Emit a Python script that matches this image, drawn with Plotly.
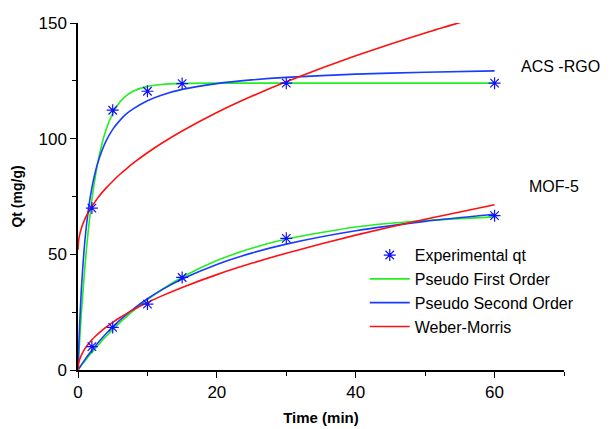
import plotly.graph_objects as go

# Sampling times (min) and measured uptake for both adsorbents
t_exp = [2, 5, 10, 15, 30, 60]
qt_acs_rgo = [70.0, 112.3, 120.5, 123.8, 124.0, 124.0]
qt_mof5 = [10.1, 18.4, 28.5, 40.0, 56.9, 66.7]

# Model curves sampled along the time axis
t_fit = [0, 0.1, 0.25, 0.5, 1, 1.5, 2, 2.5, 3, 4, 5, 6, 7, 8, 10, 12, 15, 20, 25, 30, 40, 50, 60]

pfo_acs = [0, 5.5, 13.2, 25.0, 44.9, 60.9, 73.6, 83.7, 91.9, 103.5, 110.9, 115.7, 118.7,
           120.6, 122.6, 123.4, 123.9, 124.0, 124.0, 124.0, 124.0, 124.0, 124.0]
pso_acs = [0, 9.1, 20.6, 35.6, 56.1, 69.4, 78.8, 85.7, 91.0, 98.7, 104.0, 107.8, 110.8,
           113.0, 116.4, 118.8, 121.3, 123.8, 125.4, 126.5, 127.9, 128.7, 129.3]
wm_acs = [52.0, 56.2, 58.6, 61.4, 65.3, 68.2, 70.7, 72.9, 75.0, 78.5, 81.6, 84.5, 87.1,
          89.5, 93.9, 97.9, 103.3, 111.3, 118.3, 124.6, 135.8, 145.7, 154.6]

pfo_mof = [0, 0.4, 1.0, 2.0, 3.9, 5.8, 7.6, 9.4, 11.1, 14.4, 17.4, 20.4, 23.1,
           25.7, 30.4, 34.6, 40.1, 47.3, 52.6, 56.6, 61.8, 64.6, 66.2]
pso_mof = [0, 0.47, 1.17, 2.30, 4.49, 6.56, 8.54, 10.42, 12.22, 15.57, 18.65, 21.47, 24.07,
           26.47, 30.79, 34.53, 39.32, 45.64, 50.52, 54.4, 60.16, 64.25, 67.3]
wm_mof = [0, 2.92, 4.61, 6.52, 9.22, 11.29, 13.04, 14.58, 15.97, 18.44, 20.62, 22.58, 24.39,
          26.08, 29.16, 31.94, 35.71, 41.23, 46.10, 50.50, 58.31, 65.19, 71.42]

x_ticks = [0, 20, 40, 60]
y_ticks = [0, 50, 100, 150]

GREEN = "#22ee22"
BLUE = "#1a3cff"
RED = "#ff1010"
MARK = "#1010ff"

fig = go.Figure()

models = [
    ("Pseudo First Order", GREEN, pfo_acs, pfo_mof, 2),
    ("Pseudo Second Order", BLUE, pso_acs, pso_mof, 3),
    ("Weber-Morris", RED, wm_acs, wm_mof, 4),
]
for name, color, acs, mof, rank in models:
    for i, ys in enumerate((acs, mof)):
        fig.add_trace(go.Scatter(
            x=t_fit, y=ys, mode="lines", name=name,
            line=dict(color=color, width=1.6, shape="spline", smoothing=0.6),
            legendgroup=name, showlegend=(i == 0), legendrank=rank,
        ))

for i, ys in enumerate((qt_acs_rgo, qt_mof5)):
    fig.add_trace(go.Scatter(
        x=t_exp, y=ys, mode="markers", name="Experimental qt",
        marker=dict(symbol="asterisk-open", size=10,
                    line=dict(color=MARK, width=1.2), color=MARK),
        legendgroup="exp", showlegend=(i == 0), legendrank=1,
    ))

fig.add_annotation(x=63.5, y=131, xref="x", yref="y", text="ACS -RGO",
                   showarrow=False, xanchor="left", yanchor="middle",
                   font=dict(size=16, color="black"))
fig.add_annotation(x=64.7, y=79.5, xref="x", yref="y", text="MOF-5",
                   showarrow=False, xanchor="left", yanchor="middle",
                   font=dict(size=16, color="black"))

axis_common = dict(
    showline=True, linecolor="black", linewidth=1.5,
    ticks="outside", ticklen=6, tickwidth=1.3, tickcolor="black",
    showgrid=False, zeroline=False, mirror=False, automargin=False,
    tickfont=dict(family="Liberation Sans, Arial", size=17, color="black"),
)

fig.update_xaxes(
    range=[0, 70], tickvals=x_ticks, ticktext=[str(v) for v in x_ticks],
    minor=dict(ticks="outside", ticklen=4, tickwidth=1.2, tickcolor="black", dtick=10, tick0=0),
    title=dict(text="<b>Time (min)</b>", standoff=11,
               font=dict(family="Liberation Sans, Arial", size=15, color="black")),
    **axis_common,
)
fig.update_yaxes(
    range=[0, 150], tickvals=y_ticks, ticktext=[str(v) for v in y_ticks],
    minor=dict(ticks="outside", ticklen=4, tickwidth=1.2, tickcolor="black", dtick=25, tick0=0),
    title=dict(text="<b>Qt (mg/g)</b>", standoff=13,
               font=dict(family="Liberation Sans, Arial", size=14, color="black")),
    **axis_common,
)

fig.update_layout(
    width=616, height=429,
    margin=dict(l=78, r=52, t=23, b=59),
    paper_bgcolor="white", plot_bgcolor="white",
    font=dict(family="Liberation Sans, Arial", color="black"),
    legend=dict(x=0.59, y=0.38, xanchor="left", yanchor="top",
                bgcolor="rgba(0,0,0,0)", font=dict(size=16, color="black"),
                itemwidth=40, tracegroupgap=0),
    showlegend=True,
)

fig.write_html("out.html")
